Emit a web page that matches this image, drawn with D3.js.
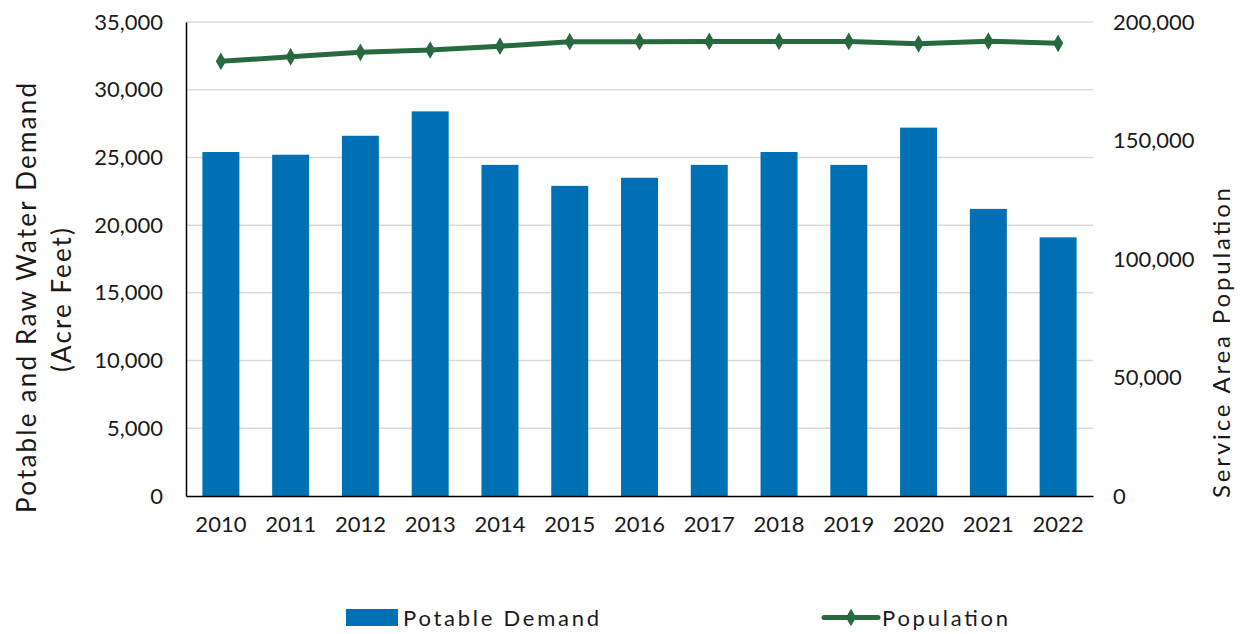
<!DOCTYPE html>
<html>
<head>
<meta charset="utf-8">
<script src="https://cdn.jsdelivr.net/npm/d3@7"></script>
<style>
  body { margin: 0; background: #fff; }
  svg text { font-family: Lato, "Noto Sans", sans-serif; fill: #1a1a1a; }
</style>
</head>
<body>
<svg id="chart" width="1241" height="634"></svg>
<script>
// chart data
var years = ["2010","2011","2012","2013","2014","2015","2016","2017","2018","2019","2020","2021","2022"];
var demand = [25400, 25200, 26600, 28400, 24450, 22900, 23500, 24450, 25400, 24450, 27200, 21200, 19100];
var population = [183400, 185300, 187200, 188200, 189800, 191700, 191700, 191800, 191800, 191800, 190800, 191900, 191000];
var leftTicks = [0, 5000, 10000, 15000, 20000, 25000, 30000, 35000];
var rightTicks = [0, 50000, 100000, 150000, 200000];

var margins = {top: 22, left: 186, right: 148, bottom: 138};
var width = 1241, height = 634;
var plotW = width - margins.left - margins.right;
var plotH = height - margins.top - margins.bottom;

var svg = d3.select('#chart');
var g = svg.append('g').attr('transform', 'translate(' + margins.left + ',' + margins.top + ')');

var x = d3.scaleBand().domain(years).range([0, plotW]).paddingInner(0.47).paddingOuter(0.235);
var yLeft = d3.scaleLinear().domain([0, 35000]).range([plotH, 0]);
var yRight = d3.scaleLinear().domain([0, 200000]).range([plotH, 0]);
var fmt = d3.format(',');

// gridlines
g.append('g').selectAll('line').data(leftTicks.slice(1)).enter().append('line')
  .attr('x1', 0).attr('x2', plotW)
  .attr('y1', function(d){ return yLeft(d); }).attr('y2', function(d){ return yLeft(d); })
  .attr('stroke', '#d9d9d9').attr('stroke-width', 1.5);

// bars
g.append('g').selectAll('rect').data(demand).enter().append('rect')
  .attr('x', function(d,i){ return x(years[i]); })
  .attr('y', function(d){ return yLeft(d); })
  .attr('width', x.bandwidth())
  .attr('height', function(d){ return plotH - yLeft(d); })
  .attr('fill', '#0070b4');

// axes
var leftAxis = d3.axisLeft(yLeft).tickValues(leftTicks).tickFormat(fmt).tickSize(0).tickPadding(23);
var gl = g.append('g').call(leftAxis);
gl.select('.domain').attr('stroke', '#000').attr('stroke-width', 1.5);
gl.selectAll('text').style('font-size', '22px').attr('fill', '#1a1a1a');

var rightAxis = d3.axisRight(yRight).tickValues(rightTicks).tickFormat(fmt).tickSize(0).tickPadding(20);
var gr = g.append('g').attr('transform', 'translate(' + plotW + ',0)').call(rightAxis);
gr.select('.domain').remove();
gr.selectAll('text').style('font-size', '22px').attr('fill', '#1a1a1a');

var bottomAxis = d3.axisBottom(x).tickSize(0).tickPadding(20);
var gb = g.append('g').attr('transform', 'translate(0,' + plotH + ')').call(bottomAxis);
gb.select('.domain').attr('stroke', '#000').attr('stroke-width', 1.5);
gb.selectAll('text').style('font-size', '22px').attr('fill', '#1a1a1a');

// population line
var lineGen = d3.line()
  .x(function(d,i){ return x(years[i]) + x.bandwidth()/2; })
  .y(function(d){ return yRight(d); });
g.append('path').datum(population)
  .attr('d', lineGen)
  .attr('fill', 'none')
  .attr('stroke', '#276a40')
  .attr('stroke-width', 5)
  .attr('stroke-linejoin', 'round');
var diamond = d3.symbol().type(d3.symbolDiamond).size(90);
g.append('g').selectAll('path').data(population).enter().append('path')
  .attr('d', diamond)
  .attr('transform', function(d,i){ return 'translate(' + (x(years[i]) + x.bandwidth()/2) + ',' + yRight(d) + ')'; })
  .attr('fill', '#276a40');

// axis titles (textLength stretches Lato to the wider original face)
svg.append('text')
  .attr('transform', 'translate(36,298) rotate(-90)')
  .attr('text-anchor', 'middle')
  .attr('textLength', 430).attr('lengthAdjust', 'spacing')
  .style('font-size', '26px')
  .text('Potable and Raw Water Demand');
svg.append('text')
  .attr('transform', 'translate(71,300) rotate(-90)')
  .attr('text-anchor', 'middle')
  .attr('textLength', 144).attr('lengthAdjust', 'spacing')
  .style('font-size', '26px')
  .text('(Acre Feet)');
svg.append('text')
  .attr('transform', 'translate(1230,343) rotate(-90)')
  .attr('text-anchor', 'middle')
  .attr('textLength', 310).attr('lengthAdjust', 'spacing')
  .style('font-size', '24px')
  .text('Service Area Population');

// legend
var leg = svg.append('g');
leg.append('rect').attr('x', 346).attr('y', 609).attr('width', 52).attr('height', 17).attr('fill', '#0070b4');
leg.append('text').attr('x', 403).attr('y', 626).style('font-size', '22px')
  .attr('textLength', 196).attr('lengthAdjust', 'spacing').text('Potable Demand');
leg.append('line').attr('x1', 824).attr('x2', 878).attr('y1', 617.5).attr('y2', 617.5)
  .attr('stroke', '#276a40').attr('stroke-width', 5).attr('stroke-linecap', 'round');
leg.append('path').attr('d', diamond).attr('transform', 'translate(851,617.5)').attr('fill', '#276a40');
leg.append('text').attr('x', 882).attr('y', 626).style('font-size', '22px')
  .attr('textLength', 126).attr('lengthAdjust', 'spacing').text('Population');
</script>
</body>
</html>
